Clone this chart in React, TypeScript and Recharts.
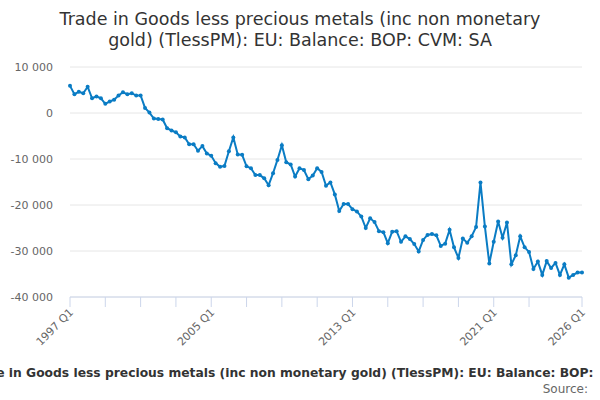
import * as React from "react";
import { LineChart, Line, XAxis, YAxis, CartesianGrid } from "recharts";

// quarterly balance, £ million, 1997 Q1 .. 2026 Q1
const balance = [
  5900, 4100, 4600, 4300, 5700, 3200, 3600, 3200, 2000, 2500,
  2900, 3800, 4500, 4100, 4300, 3800, 3800, 1100, 100, -1200,
  -1300, -1400, -3300, -3800, -4200, -5100, -5300, -6800, -6800, -8200,
  -7200, -8800, -9300, -10900, -11700, -11500, -8300, -5300, -9000, -9100,
  -11600, -12000, -13500, -13500, -14200, -15700, -13100, -10200, -7000, -10700,
  -11200, -13800, -12000, -12400, -14400, -13600, -12000, -12800, -15800, -15100,
  -17700, -21300, -19800, -19800, -20900, -21400, -22500, -25000, -22900, -23700,
  -25700, -25900, -28300, -25800, -25700, -28000, -26800, -27400, -28500, -30100,
  -27600, -26500, -26300, -26600, -28900, -28400, -25400, -29200, -31500, -27300,
  -28200, -26800, -24800, -15100, -24700, -32700, -28000, -23600, -27100, -23800,
  -32900, -30900, -26800, -29200, -30200, -33900, -32300, -35200, -32200, -33700,
  -32600, -35200, -32900, -35800, -35200, -34700, -34700,
];

const firstYear = 1997;
const quarters = balance.map(
  (_, i) => `${firstYear + Math.floor(i / 4)} Q${(i % 4) + 1}`
);

const xTicks = [0, 8, 16, 24, 32, 40, 48, 56, 64, 72, 80, 88, 96, 104, 116];
const xLabelled = ["1997 Q1", "2005 Q1", "2013 Q1", "2021 Q1", "2026 Q1"];
const yTicks = [-40000, -30000, -20000, -10000, 0, 10000];

const title1 = "Trade in Goods less precious metals (inc non monetary";
const title2 = "gold) (TlessPM): EU: Balance: BOP: CVM: SA";
const seriesName =
  "Trade in Goods less precious metals (inc non monetary gold) (TlessPM): EU: Balance: BOP: CVM: SA";

const data = balance.map((v, i) => ({ i, q: quarters[i], v }));

const FONT = "'DejaVu Sans', sans-serif";
const BLUE = "#0a7cc4";

const fmt = (v: number) => {
  const s = Math.abs(v).toString().replace(/\B(?=(\d{3})+(?!\d))/g, " ");
  return v < 0 ? "-" + s : s;
};

const XTick = (props: any) => {
  const { x, y, payload } = props;
  const label = quarters[payload.value];
  if (!xLabelled.includes(label)) return null;
  return (
    <g transform={`translate(${x + 4},${y + 4})`}>
      <text
        x={0}
        y={0}
        textAnchor="end"
        transform="rotate(-45)"
        fontSize={11}
        fill="#666"
        fontFamily={FONT}
      >
        {label}
      </text>
    </g>
  );
};

export default function App() {
  return (
    <div style={{ position: "relative", width: 600, height: 400, fontFamily: FONT }}>
      <style>{"body{margin:0}"}</style>
      <LineChart
        width={600}
        height={400}
        data={data}
        margin={{ top: 67, right: 18, bottom: 43, left: 0 }}
      >
        <CartesianGrid vertical={false} stroke="#e6e6e6" />
        <XAxis
          dataKey="i"
          type="number"
          domain={[0, 116]}
          ticks={xTicks}
          interval={0}
          height={60}
          axisLine={{ stroke: "#ccd6eb" }}
          tickLine={{ stroke: "#ccd6eb" }}
          tickSize={10}
          tick={(p: any) => <XTick {...p} />}
        />
        <YAxis
          type="number"
          domain={[-40000, 10000]}
          ticks={yTicks}
          interval={0}
          width={70}
          axisLine={false}
          tickLine={false}
          tickSize={0}
          tickMargin={17}
          tickFormatter={fmt}
          tick={{ fontSize: 11, fill: "#666", fontFamily: FONT }}
        />
        <Line
          type="linear"
          dataKey="v"
          stroke={BLUE}
          strokeWidth={2}
          dot={{ r: 2, fill: BLUE, stroke: BLUE, strokeWidth: 0 }}
          isAnimationActive={false}
        />
      </LineChart>
      <svg
        width={600}
        height={400}
        style={{ position: "absolute", left: 0, top: 0, pointerEvents: "none" }}
      >
        <defs>
          <clipPath id="cut">
            <rect x={0} y={0} width={596} height={400} />
          </clipPath>
        </defs>
        <text x={300} y={24.5} textAnchor="middle" fontSize={17.5} fill="#333" fontFamily={FONT}>
          {title1}
        </text>
        <text x={300} y={45.5} textAnchor="middle" fontSize={17.5} fill="#333" fontFamily={FONT}>
          {title2}
        </text>
        <text
          x={-34}
          y={377}
          fontSize={12.3}
          fontWeight="bold"
          fill="#333"
          fontFamily={FONT}
          clipPath="url(#cut)"
        >
          {seriesName}
        </text>
        <text x={588} y={393} textAnchor="end" fontSize={12} fill="#666" fontFamily={FONT}>
          Source:
        </text>
      </svg>
    </div>
  );
}
